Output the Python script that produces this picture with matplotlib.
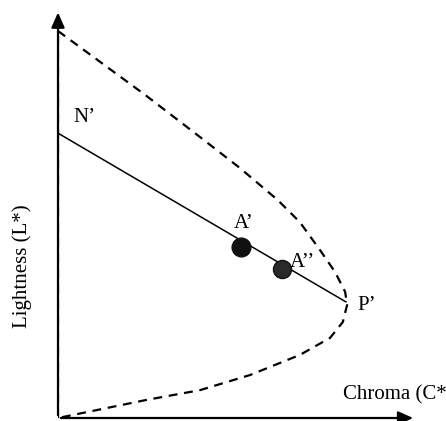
import numpy as np
import matplotlib.pyplot as plt

# gamut boundary (chroma, lightness)
bound_c = [0, 22.5, 36.7, 47.0, 56.8, 62.5, 67.7, 71.6, 74.2, 74.7, 73.6, 70.3, 62.5, 49.6, 36.7, 23.0, 0]
bound_l = [100, 83.5, 72.6, 64.6, 56.3, 50.6, 43.4, 37.7, 32.6, 29.2, 24.8, 20.7, 16.3, 11.1, 7.2, 4.7, 0]

# constant hue line N' -> P'
line_c = [0, 74.4]
line_l = [73.6, 30.0]

pts_c = [47.3, 57.9]
pts_l = [44.3, 38.6]

plt.rcParams['font.family'] = ['Liberation Serif', 'DejaVu Serif']

fig = plt.figure(figsize=(4.46, 4.21), dpi=100)
ax = fig.add_axes([58/446, 3/421, 388/446, 418/421])
ax.set_xlim(0, 388/3.87)
ax.set_ylim(0, 418/3.87)
ax.axis('off')

# axes with arrows
ax.annotate('', xy=(92.5, 0), xytext=(0, 0),
            arrowprops=dict(arrowstyle='-|>,head_length=0.9,head_width=0.4', color='black', lw=1.6))
ax.annotate('', xy=(0, 105.5), xytext=(0, 0),
            arrowprops=dict(arrowstyle='-|>,head_length=0.9,head_width=0.4', color='black', lw=1.6))

ax.plot(bound_c, bound_l, color='black', lw=1.6, ls=(0, (4, 3)))
ax.plot([0, 0], [0, 100], color='black', lw=1.6, ls=(0, (4, 3)))
ax.plot(line_c, line_l, color='black', lw=1.1)

ax.plot(pts_c[0], pts_l[0], 'o', ms=13.5, color='#111111')
ax.plot(pts_c[1], pts_l[1], 'o', ms=13, color='#2a2a2a', mec='#111111')

fs = 15
ax.text(3.9, 76.5, "N\u2019", fontsize=fs, ha='left', va='baseline')
ax.text(45.3, 49.1, "A\u2019", fontsize=fs, ha='left', va='baseline')
ax.text(60.0, 39.0, "A\u2019\u2019", fontsize=fs, ha='left', va='baseline')
ax.text(77.3, 27.9, "P\u2019", fontsize=fs, ha='left', va='baseline')
ax.text(73.6, 4.9, "Chroma (C*)", fontsize=fs, ha='left', va='baseline', clip_on=False)
fig.text(22/446, 1 - 266/421, "Lightness (L*)", fontsize=fs, rotation=90, ha='center', va='center')

fig.savefig('out.png', dpi=100)
